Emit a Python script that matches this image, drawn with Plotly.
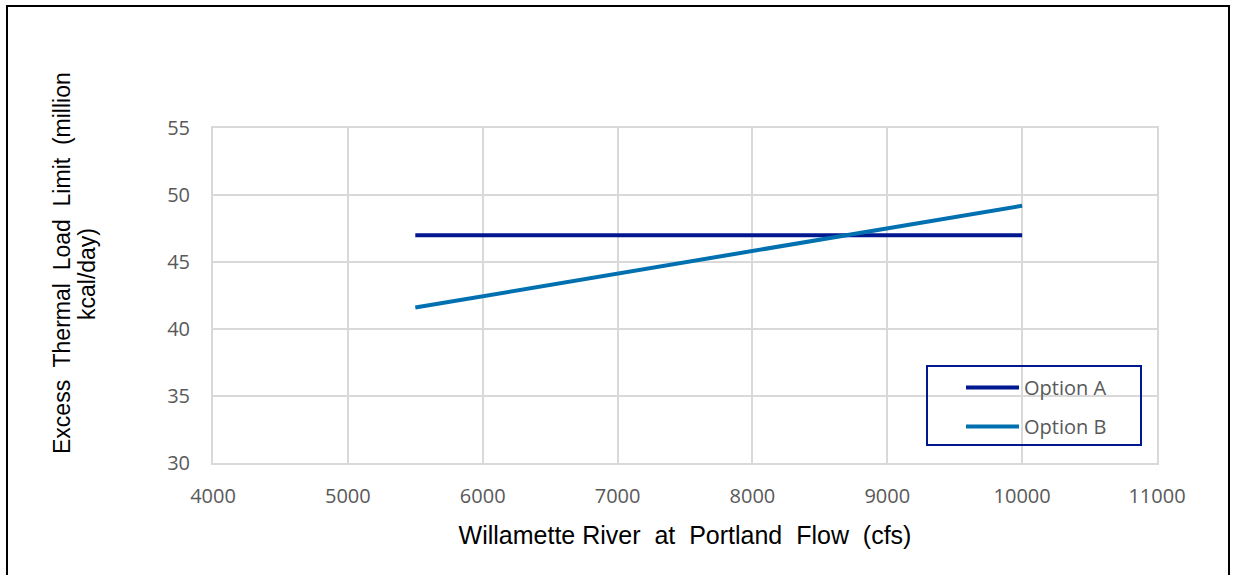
import plotly.graph_objects as go

flow_a = [5500, 10000]
load_a = [47.0, 47.0]
flow_b = [5500, 10000]
load_b = [41.6, 49.2]

x_ticks = [4000, 5000, 6000, 7000, 8000, 9000, 10000, 11000]
y_ticks = [30, 35, 40, 45, 50, 55]

W, H = 1233, 575
L, R, T, B = 213, 76, 128, 112
pw, ph = W - L - R, H - T - B


def px_x(p):
    return (p - L) / pw


def px_y(p):
    return (H - B - p) / ph


fig = go.Figure()
fig.add_trace(go.Scatter(x=flow_a, y=load_a, mode="lines", name="Option A",
                         legendgroup="a",
                         line=dict(color="#00188F", width=4)))
fig.add_trace(go.Scatter(x=flow_b, y=load_b, mode="lines", name="Option B",
                         legendgroup="b",
                         line=dict(color="#0070B0", width=4)))

tickfont = dict(family="Open Sans, sans-serif", size=20, color="#595959")
titlefont = dict(family="Liberation Sans, Arial, sans-serif", size=23, color="#000000")

fig.update_layout(
    width=W, height=H,
    margin=dict(l=L, r=R, t=T, b=B),
    paper_bgcolor="white", plot_bgcolor="white",
    xaxis=dict(range=[4000, 11000], tickvals=x_ticks, tickformat="d", showgrid=True,
               gridcolor="#D9D9D9", gridwidth=2, zeroline=False,
               showline=True, linecolor="#D9D9D9", linewidth=2, mirror=True,
               tickfont=tickfont, ticks="", ticklabelstandoff=14,
               title=dict(text="Willamette River  at  Portland  Flow  (cfs)",
                          font=dict(family="Liberation Sans, Arial, sans-serif", size=25, color="#000000"),
                          standoff=18)),
    yaxis=dict(range=[30, 55], tickvals=y_ticks, showgrid=True,
               gridcolor="#D9D9D9", gridwidth=2, zeroline=False,
               showline=True, linecolor="#D9D9D9", linewidth=2, mirror=True,
               tickfont=tickfont, ticks="", ticklabelstandoff=17),
    legend=dict(x=px_x(961), xanchor="left", y=px_y(368), yanchor="top",
                borderwidth=0, bgcolor="rgba(0,0,0,0)", itemwidth=53,
                font=dict(family="Open Sans, sans-serif", size=20, color="#595959"),
                tracegroupgap=10),
    showlegend=True,
)

# y-axis title, two lines as in the reference
fig.add_annotation(text="Excess  Thermal  Load  Limit  (million", textangle=-90,
                   xref="paper", yref="paper", x=px_x(62), y=px_y(263),
                   xanchor="center", yanchor="middle", showarrow=False, font=titlefont)
fig.add_annotation(text="kcal/day)", textangle=-90,
                   xref="paper", yref="paper", x=px_x(87), y=px_y(274),
                   xanchor="center", yanchor="middle", showarrow=False, font=titlefont)

# legend box
fig.add_shape(type="rect", xref="paper", yref="paper",
              x0=px_x(927), x1=px_x(1141), y0=px_y(366), y1=px_y(445),
              line=dict(color="#00188F", width=2), fillcolor="rgba(0,0,0,0)", layer="above")

# chart frame
fig.add_shape(type="rect", xref="paper", yref="paper",
              x0=px_x(7), x1=px_x(1229), y0=px_y(6), y1=px_y(590),
              line=dict(color="black", width=2), fillcolor="rgba(0,0,0,0)", layer="above")

fig.write_html("out.html", config={"displayModeBar": False},
               post_script="document.body.style.margin='0';")
